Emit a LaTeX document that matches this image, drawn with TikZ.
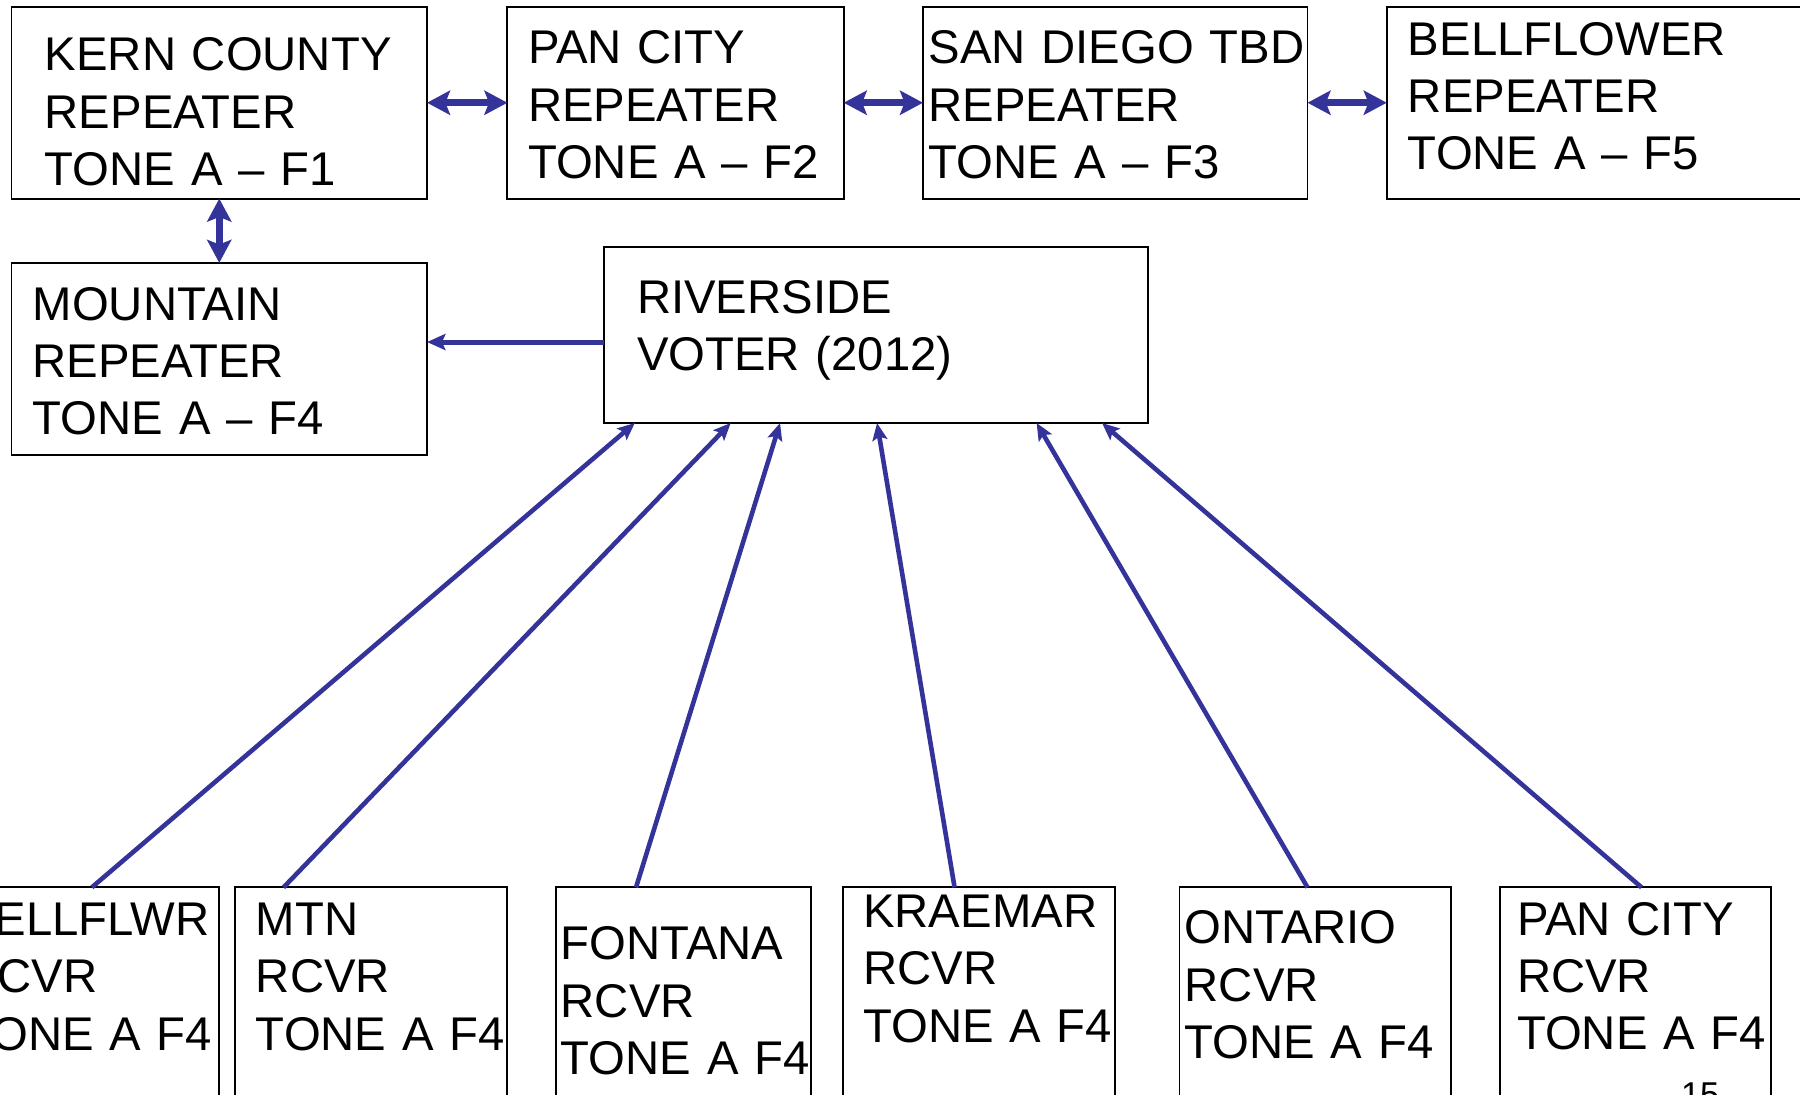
\documentclass[tikz,border=0pt]{standalone}
\usepackage{fontspec}
\setmainfont{Liberation Sans}
\usetikzlibrary{arrows.meta}
\definecolor{arrowblue}{HTML}{333399}
\begin{document}
\begin{tikzpicture}[x=0.5pt,y=-0.5pt,
  box/.style={draw=black, line width=0.8pt, inner sep=0pt, outer sep=0pt, rectangle},
  lbl/.style={inner sep=0pt, outer sep=0pt, anchor=base west, text width=200pt, align=left, font=\fontsize{20.6}{25}\selectfont},
  dbl/.style={draw=arrowblue, line width=3pt, {Stealth[length=10pt,width=10.5pt,inset=2pt]}-{Stealth[length=10pt,width=10.5pt,inset=2pt]}},
  arr/.style={draw=arrowblue, line width=2pt, -{Stealth[length=7.5pt,width=6.5pt,inset=1.5pt]}},
  arrm/.style={draw=arrowblue, line width=2.2pt, -{Stealth[length=8pt,width=7pt,inset=1.5pt]}}]
\useasboundingbox (0,0) rectangle (1568,953);
\clip (0,0) rectangle (1568,953);
\fill[white] (0,0) rectangle (1568,953);

% top row boxes
\node[box, minimum width=181pt, minimum height=83.5pt] (kern) at (191,89.5) {};
\node[box, minimum width=146.5pt, minimum height=83.5pt] (pan) at (588.5,89.5) {};
\node[box, minimum width=167.5pt, minimum height=83.5pt] (sd) at (971.5,89.5) {};
\node[box, minimum width=196pt, minimum height=83.5pt] (bell) at (1404,89.5) {};
% second row
\node[box, minimum width=181pt, minimum height=83.5pt] (mtn) at (191,312.5) {};
\node[box, minimum width=237pt, minimum height=76.75pt] (riv) at (763,291.75) {};
% bottom row
\node[box, minimum width=121pt, minimum height=118.5pt] (b1) at (70,891.5) {};
\node[box, minimum width=118.5pt, minimum height=118.5pt] (b2) at (323.5,891.5) {};
\node[box, minimum width=111.25pt, minimum height=118.5pt] (b3) at (595.25,891.5) {};
\node[box, minimum width=118.25pt, minimum height=118.5pt] (b4) at (852.75,891.5) {};
\node[box, minimum width=118.25pt, minimum height=118.5pt] (b5) at (1145.75,891.5) {};
\node[box, minimum width=118.25pt, minimum height=118.5pt] (b6) at (1424.75,891.5) {};

% labels
\node[lbl] (kernT) at (39,61.6) {KERN COUNTY\\REPEATER\\TONE A – F1};
\node[lbl] (panT) at (460,55.5) {PAN CITY\\REPEATER\\TONE A – F2};
\node[lbl] (sdT) at (809,55.5) {SAN DIEGO TBD\\REPEATER\\TONE A – F3};
\node[lbl] (bellT) at (1226.5,48) {BELLFLOWER\\REPEATER\\TONE A – F5};
\node[lbl] (mtnT) at (28.5,278.8) {MOUNTAIN\\REPEATER\\TONE A – F4};
\node[lbl] (rivT) at (555,272.9) {RIVERSIDE\\VOTER (2012)};
\node[lbl] (b1T) at (-32,815) {BELLFLWR\\RCVR\\TONE A F4};
\node[lbl] (b2T) at (223,815) {MTN\\RCVR\\TONE A F4};
\node[lbl] (b3T) at (488.5,836) {FONTANA\\RCVR\\TONE A F4};
\node[lbl] (b4T) at (752,808) {KRAEMAR\\RCVR\\TONE A F4};
\node[lbl] (b5T) at (1032,822) {ONTARIO\\RCVR\\TONE A F4};
\node[lbl] (b6T) at (1321.5,814.5) {PAN CITY\\RCVR\\TONE A F4};
\node[inner sep=0pt, anchor=base west, font=\fontsize{15}{18}\selectfont] (pg) at (1464,964) {15};

% double arrows
\draw[dbl] (kern.east) -- (pan.west);
\draw[dbl] (pan.east) -- (sd.west);
\draw[dbl] (sd.east) -- (bell.west);
\draw[dbl] (kern.south) -- (mtn.north);

% riverside to mountain
\draw[arrm] ([yshift=-3.1pt]riv.west) -- ([yshift=-3.1pt]riv.west -| mtn.east);

% receivers to riverside
\draw[arr] ([xshift=5pt]b1.north) -- ([xshift=-105pt]riv.south);
\draw[arr] ([xshift=-38.25pt]b2.north) -- ([xshift=-63.25pt]riv.south);
\draw[arr] ([xshift=-20.6pt]b3.north) -- ([xshift=-41.75pt]riv.south);
\draw[arr] ([xshift=-10.6pt]b4.north) -- ([xshift=0.5pt]riv.south);
\draw[arr] ([xshift=-3.4pt]b5.north) -- ([xshift=70pt]riv.south);
\draw[arr] ([xshift=2.6pt]b6.north) -- ([xshift=98.5pt]riv.south);
\end{tikzpicture}
\end{document}
